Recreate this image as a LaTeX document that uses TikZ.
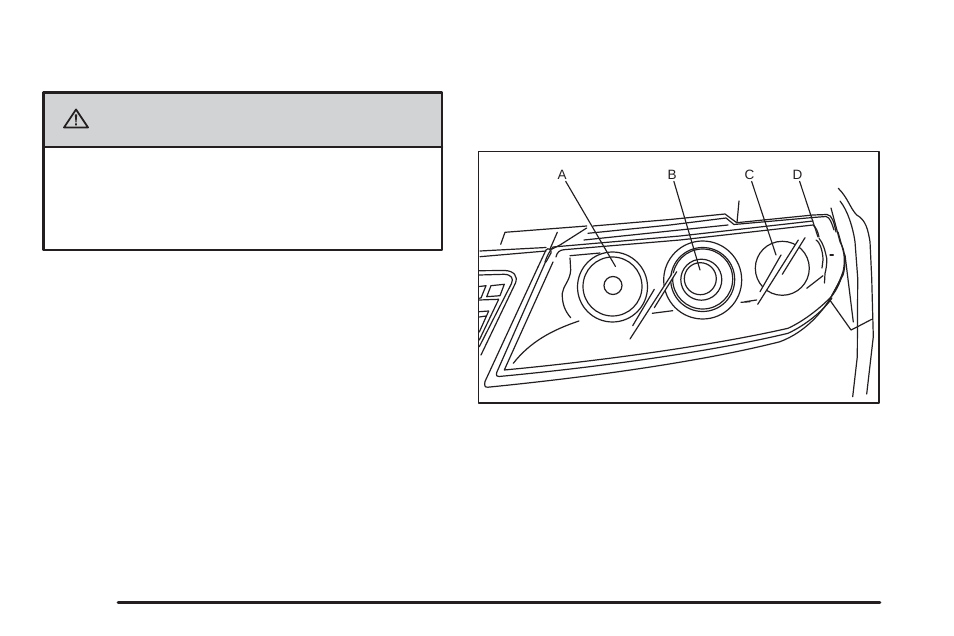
\documentclass[tikz,border=0pt]{standalone}
\usepackage{fontspec}
\setmainfont{Liberation Sans}
\definecolor{headgray}{HTML}{D1D3D4}
\definecolor{inkgray}{HTML}{231F20}
\tikzset{
  part/.style={draw=inkgray, line width=1.2pt, line join=round, line cap=round},
  callout/.style={inner sep=1pt, font=\fontsize{13.5}{13.5}\selectfont, text=inkgray},
  leader/.style={draw=inkgray, line width=1.15pt, shorten <=0.5pt},
  heavy/.style={draw=inkgray, line width=2.6pt}
}
\begin{document}
\begin{tikzpicture}[x=1pt, y=-1pt, line join=round, line cap=round]
\useasboundingbox (0,0) rectangle (954,636);
% warning box
\fill[headgray] (43.5,92.5) rectangle (442,147);
\draw[heavy] (43.5,92.5) rectangle (442,250) (43.5,147)--(442,147);
\draw[inkgray, line width=1.8pt] (76,109.5)--(88,127.5)--(64,127.5)--cycle;
\fill[inkgray] (74.8,114.5)--(77.2,114.5)--(76.5,122.5)--(75.5,122.5)--cycle
 (75.1,123.4) rectangle (76.9,125.4);
% page rule
\draw[heavy] (118,602.5)--(880,602.5);
% picture frame
\draw[inkgray, line width=1.5pt] (478.5,151.5) rectangle (879,403);
\path
(615.5,266.5) coordinate (tipA)
(700,270) coordinate (tipB)
(776,255) coordinate (tipC)
(818,237) coordinate (tipD)
;
\node[callout] (lblA) at (562,175) {A};
\node[callout] (lblB) at (672,175) {B};
\node[callout] (lblC) at (749.5,175) {C};
\node[callout] (lblD) at (797.5,175) {D};
% roof lines
\draw[part] (500.7,244.3)--(505,232.3)--(586.7,226)
 (586.7,228)--(560,245)--(552,249) (557.3,232.3)--(550,249);
\draw[part] (480,251)--(546,247.5) (480,256.7)--(546,251);
\draw[part] (593,226)--(670,219.5)--(725,214)--(736.7,222.7)--(813,215)--(827,214.5)
 .. controls (832,215) and (834,222) .. (836,232);
\draw[part] (588,233.3)--(670,225)--(726,218)--(734,224.5)--(813,217.5)--(826,216.5)
 .. controls (830,217) and (832,224) .. (834,230);
\draw[part] (584,240)--(670,231)--(728,225);
\draw[part] (739,201)--(737,222.7);
\draw[part] (570,255.7)--(600,253);
% lens frame, three rims
\draw[part] (538,267)--(485,381.5) .. controls (484,386) and (485,387.5) .. (488,387.2)
 .. controls (590,377) and (700,362) .. (780,341.7)
 .. controls (806,332) and (830,308) .. (843,272);
\draw[part] (545.5,262)--(496.7,372.5) .. controls (496,376) and (497,376.7) .. (499,376.5)
 .. controls (600,367) and (710,352) .. (788,333.3)
 .. controls (806,325) and (824,310) .. (832,298);
\draw[part] (553,262)--(504.3,370) .. controls (600,361) and (710,346) .. (788,328.3)
 .. controls (806,320) and (822,306) .. (830,298)
 .. controls (838,290) and (848,268) .. (843,250)--(838,232);
\draw[part] (545,262) .. controls (547,256) and (549,252) .. (553,247)--(680,236)--(813,221)
 (556,257) .. controls (557,252) and (560,250) .. (564,249.7)--(680,240)--(813,225)
 .. controls (816,227) and (818,232) .. (819,237);
\draw[part] (538,267)--(546,250) .. controls (548,247) and (552,250) .. (551,253)--(546,262);
% keypad
\draw[part] (479.3,270.7)--(505,270.5) .. controls (514,271) and (518,276) .. (515.5,283)--(481,355);
\draw[part] (479.3,275)--(504,274.3) .. controls (511,274.5) and (514,278) .. (511.5,283.5)--(479.3,346.7);
\draw[part] (479.3,286.5)--(486,285.7)--(481,298)--(479.3,298.2)
 (491,285.7)--(504.3,284.3)--(500,295.7)--(486.7,296.7)--cycle
 (479.3,300)--(498.7,299.3)--(479.3,340)
 (479.3,311.7)--(488.7,311)--(479.3,332)
 (479.3,317)--(486,316);
% lens A
\draw[part] (570.7,317.7) .. controls (565,311) and (562,304) .. (562.3,293.3)
 .. controls (563,286) and (570,281) .. (570.7,270)--(570,258);
\draw[part] (513.3,363.3) .. controls (530,342) and (552,330) .. (579,321);
\draw[part] (612.5,287) circle (35);
\draw[part] (612.5,286.5) circle (29.5);
\draw[part] (613,285.5) circle (9);
% lens B
\draw[part] (702.7,280) circle (39);
\draw[part] (702.7,279.5) circle (32);
\draw[part] (702.7,279) circle (30);
\draw[part] (701.3,279.7) circle (20.5);
\draw[part] (700.3,278.7) circle (16);
\fill[white] (654.3,289.3)--(632.7,325.7)--(630,339)--(671.7,274.3)--(676.7,271.7)--(654.3,307.7)--cycle;
\draw[part] (654.3,289.3)--(632.7,325.7) (671.7,274.3)--(630,339) (676.7,271.7)--(654.3,307.7);
\draw[part] (652.3,313.3)--(672.7,310.7) (741,302.3)--(750,301.7);
% lens C
\draw[part] (782.3,268.3) circle (27);
\fill[white] (781,255)--(760,291.7)--(757.7,304.3)--(798.3,240)--(805,237.7)--(782.3,274.3)--cycle;
\draw[part] (781,255)--(760,291.7) (798.3,240)--(757.7,304.3) (805,237.7)--(782.3,274.3);
\draw[part] (745,301.7)--(756.7,300) (806.7,288.3)--(823,275.7);
% lens D
\draw[part] (819,238.3) .. controls (823,243) and (825,250) .. (826.7,258.3)
 .. controls (827,264) and (826,270) .. (825,273.3)--(824.5,283);
\draw[part] (816,240) .. controls (820,242) and (823,252) .. (823,260)--(822,268);
\draw[part] (830,255)--(833.3,255);
% fender
\draw[part] (831,208)--(840,241.7) .. controls (846,252) and (846,265) .. (843,275)--(832,295);
\draw[part] (838.3,188.3) .. controls (848,198) and (850,208) .. (856.7,215)
 .. controls (866,220) and (868,230) .. (870,241.7)--(871.7,278)--(873.3,336.7)--(866.7,394);
\draw[part] (840,201) .. controls (848,211) and (853,228) .. (855,241.7)
 --(857.7,278)--(857.3,356.7)--(852.7,396.7);
\draw[part] (845,255)--(853.3,322);
\draw[part] (829.3,299.3)--(851,330)--(857,327)--(871.7,319.3);
% callout lines
\draw[leader] (lblA)--(tipA);
\draw[leader] (lblB)--(tipB);
\draw[leader] (lblC)--(tipC);
\draw[leader] (lblD)--(tipD);
\end{tikzpicture}
\end{document}
